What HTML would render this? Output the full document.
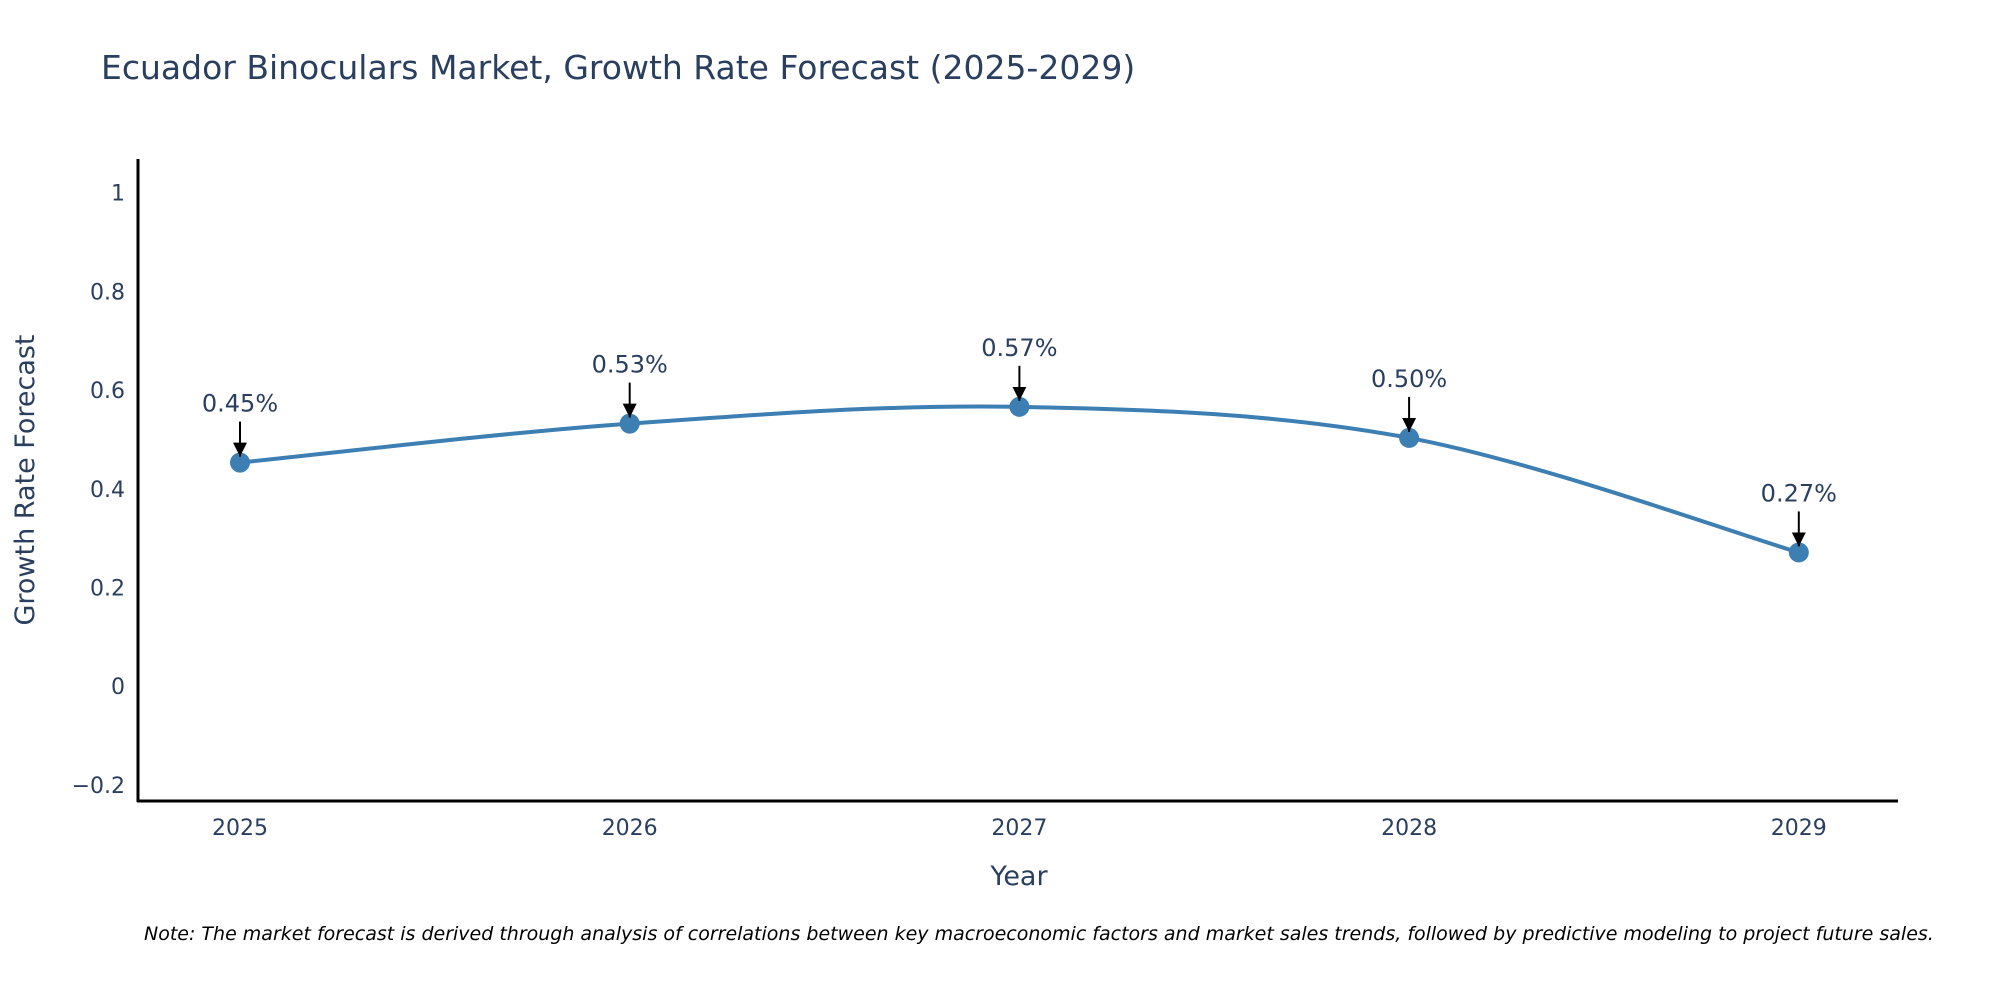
<!DOCTYPE html>
<html><head><meta charset="utf-8"><style>
body{margin:0;background:#fff;}
svg{display:block;font-family:"DejaVu Sans","Liberation Sans",sans-serif;}
</style></head><body>
<svg id="chart" width="2000" height="1000" viewBox="0 0 2000 1000">
<defs><marker id="ah" markerWidth="14" markerHeight="14" refX="14" refY="7" orient="auto" markerUnits="userSpaceOnUse"><path d="M0,0 L14,7 L0,14 Z" fill="#000"/></marker></defs>
<text x="101" y="79" font-size="33" fill="#2a3f5f">Ecuador Binoculars Market, Growth Rate Forecast (2025-2029)</text>
<g id="yticks"></g><g id="xticks"></g>
<line x1="138" y1="159" x2="138" y2="802" stroke="#000" stroke-width="3"/>
<line x1="137" y1="801" x2="1898" y2="801" stroke="#000" stroke-width="3"/>
<text transform="translate(34,480) rotate(-90)" text-anchor="middle" font-size="27" fill="#2a3f5f">Growth Rate Forecast</text>
<text x="1019" y="885" text-anchor="middle" font-size="27" fill="#2a3f5f">Year</text>
<g id="series"></g>
<text x="144" y="940" font-size="19" font-style="italic" fill="#000">Note: The market forecast is derived through analysis of correlations between key macroeconomic factors and market sales trends, followed by predictive modeling to project future sales.</text>
</svg>
<script>
const years=["2025","2026","2027","2028","2029"];
const values=[0.453,0.532,0.566,0.503,0.271];
const labels=["0.45%","0.53%","0.57%","0.50%","0.27%"];
const yTicks=[-0.2,0,0.2,0.4,0.6,0.8,1];
const yTickLabels=["\u22120.2","0","0.2","0.4","0.6","0.8","1"];
const NS="http://www.w3.org/2000/svg";
const X=i=>240+i*389.7;
const Y=v=>686.2-v*493.6;
function el(t,a,p){const e=document.createElementNS(NS,t);for(const k in a)e.setAttribute(k,a[k]);p.appendChild(e);return e;}
const yg=document.getElementById('yticks');
yTicks.forEach((v,i)=>{const t=el('text',{x:125,y:Y(v)+8,'text-anchor':'end','font-size':22,fill:'#2a3f5f'},yg);t.textContent=yTickLabels[i];

});
const xg=document.getElementById('xticks');
years.forEach((y,i)=>{const t=el('text',{x:X(i),y:835,'text-anchor':'middle','font-size':22,fill:'#2a3f5f'},xg);t.textContent=y;

});
const sg=document.getElementById('series');
const pts=values.map((v,i)=>[X(i),Y(v)]);
let d=`M${pts[0][0]},${pts[0][1]}`;
for(let i=0;i<pts.length-1;i++){const p0=pts[Math.max(0,i-1)],p1=pts[i],p2=pts[i+1],p3=pts[Math.min(pts.length-1,i+2)];
const c1=[p1[0]+(p2[0]-p0[0])/6,p1[1]+(p2[1]-p0[1])/6],c2=[p2[0]-(p3[0]-p1[0])/6,p2[1]-(p3[1]-p1[1])/6];
d+=` C${c1[0]},${c1[1]} ${c2[0]},${c2[1]} ${p2[0]},${p2[1]}`;}
const line=el('path',{d:d,fill:'none',stroke:'#3d7fb3','stroke-width':4},sg);


pts.forEach((p,i)=>{
const c=el('circle',{cx:p[0],cy:p[1],r:10,fill:'#3d7fb3'},sg);


const a=el('line',{x1:p[0],y1:p[1]-41,x2:p[0],y2:p[1]-6,stroke:'#000','stroke-width':2,'marker-end':'url(#ah)'},sg);


const t=el('text',{x:p[0],y:p[1]-51,'text-anchor':'middle','font-size':24,fill:'#2a3f5f'},sg);t.textContent=labels[i];


});
</script>
</body></html>
